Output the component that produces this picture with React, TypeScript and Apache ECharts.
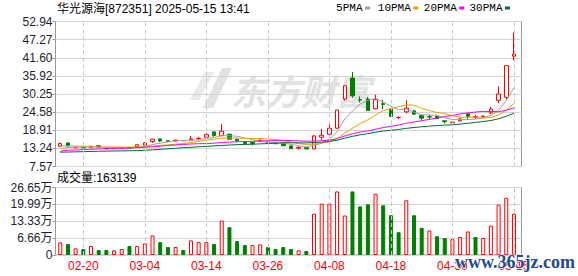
import React, { useEffect, useRef } from 'react';
import * as echarts from 'echarts';

const title = '华光源海[872351] 2025-05-15 13:41';
const volumeTitle = '成交量:163139';

const dates = [
  '02-17','02-18','02-19','02-20','02-21','02-24','02-25','02-26','02-27','02-28',
  '03-03','03-04','03-05','03-06','03-07','03-10','03-11','03-12','03-13','03-14',
  '03-17','03-18','03-19','03-20','03-21','03-24','03-25','03-26','03-27','03-28',
  '03-31','04-01','04-02','04-03','04-07','04-08','04-09','04-10','04-11','04-14',
  '04-15','04-16','04-17','04-18','04-21','04-22','04-23','04-24','04-25','04-28',
  '04-29','04-30','05-06','05-07','05-08','05-09','05-12','05-13','05-14','05-15'
];

const opens = [
  13.91,14.95,13.47,13.69,13.54,14.07,13.32,13.16,13.25,13.54,
  13.76,14.26,15.36,16.20,15.64,15.58,15.64,15.89,16.27,16.74,
  18.40,17.24,17.68,16.11,15.26,15.17,15.42,15.26,14.95,14.79,
  14.01,13.28,13.47,13.06,16.74,17.68,19.56,28.67,35.26,28.51,
  28.67,25.62,27.19,25.53,22.86,24.68,25.00,23.52,23.17,23.27,
  21.86,21.23,21.86,24.05,22.96,23.17,24.37,28.29,29.23,42.11
];
const closes = [
  14.73,14.10,13.63,13.38,13.85,13.63,13.13,13.38,13.44,13.28,
  14.38,14.95,16.14,15.58,15.39,15.83,15.70,16.20,16.42,17.55,
  17.24,18.62,16.11,15.67,14.79,14.79,15.80,14.85,14.70,14.07,
  13.13,13.54,13.06,17.15,17.37,19.56,25.22,32.84,29.70,28.39,
  25.09,28.45,27.00,23.21,22.93,25.84,23.96,22.70,23.05,22.55,
  21.60,21.45,22.48,23.27,23.17,23.33,25.53,30.27,39.12,42.73
];
const lows = [
  13.76,13.69,13.22,13.22,13.44,13.54,12.91,13.13,13.13,13.20,
  13.69,14.16,14.95,15.17,15.17,15.48,15.55,15.80,15.80,16.68,
  16.93,17.15,16.05,15.04,14.63,14.16,15.36,14.73,14.57,14.01,
  13.06,12.91,12.97,12.97,15.89,16.42,19.34,28.23,29.08,27.60,
  25.00,25.47,25.53,23.11,22.48,24.21,23.74,21.86,22.26,22.39,
  21.07,20.91,21.64,22.39,22.48,22.96,23.90,27.35,28.45,40.79
];
const highs = [
  15.11,15.04,13.69,13.79,14.00,14.16,13.38,13.54,13.60,13.60,
  14.48,15.11,16.20,16.30,15.80,15.89,15.80,17.15,16.74,18.00,
  18.46,20.91,17.77,16.20,15.36,15.26,16.11,15.36,15.04,14.85,
  14.07,13.85,13.54,17.30,19.34,21.13,25.31,32.94,37.15,29.49,
  29.30,30.02,28.45,25.62,23.21,28.29,25.15,23.65,23.74,23.43,
  21.92,21.60,22.80,24.15,23.65,23.49,26.25,32.59,39.12,49.49
];

const volumes = [
  49800,43100,26100,23500,35300,19600,19600,18300,23500,35300,
  35300,45700,77200,50900,31300,31300,19600,57500,50900,50900,
  43100,136000,109700,54900,39200,39200,41800,31300,23500,31300,
  23500,18300,16000,163000,203000,203000,251000,156000,251000,192000,
  200000,242000,196000,157000,90000,216000,157000,107000,97000,74000,
  67000,63000,71000,93000,71000,67000,116000,199000,226000,163139
];
// 1 = red (hollow) volume bar, 0 = green (filled) volume bar
const volumeUp = [
  1,0,1,0,1,0,0,1,1,0,
  1,1,1,0,0,1,0,1,1,1,
  0,1,0,0,0,1,1,0,0,0,
  0,1,0,1,1,1,1,1,0,0,
  0,1,0,0,0,1,0,0,1,0,
  0,1,1,1,0,1,1,1,1,1
];

// moving-average values before a full window is visible
const ma5Head = [14.0, 14.0, 13.95, 13.9];
const ma10Head = [13.2, 13.5, 13.6, 13.65, 13.68, 13.7, 13.68, 13.7, 13.67];
const ma20Head = [12.35, 12.66, 12.75, 12.84, 12.97, 13.06, 13.13, 13.19, 13.25, 13.35,
  13.44, 13.60, 13.76, 13.95, 14.13, 14.32, 14.48, 14.60, 14.70];
const ma30Head = [12.05, 12.1, 12.16, 12.22, 12.28, 12.34, 12.38, 12.42, 12.46, 12.5,
  12.53, 12.65, 12.78, 12.91, 13.1, 13.28, 13.45, 13.6, 13.75, 13.88,
  14.01, 14.15, 14.28, 14.41, 14.48, 14.54, 14.65, 14.75, 14.85];

const priceTicks = ['7.57','13.24','18.91','24.58','30.25','35.92','41.60','47.27','52.94'];
const volTicks = ['0','6.66万','13.33万','19.99万','26.65万'];
const labelDates = ['02-20','03-04','03-14','03-26','04-08','04-18','04-30','05-15'];

const maNames = ['5PMA','10PMA','20PMA','30PMA'];
const maPeriods = [5, 10, 20, 30];
const maHeads = [ma5Head, ma10Head, ma20Head, ma30Head];
const maColors = ['#a0a0a0','#f0a000','#ff00ff','#006e30'];

const PRICE_MIN = 7.57, PRICE_MAX = 52.94;
const VOL_MAX = 266500;

const UP = '#ff0000';
const DOWN = '#008000';

function movingAverage(n: number, head: number[]) {
  return closes.map((_, i) => {
    if (i < n - 1) return head[i];
    let s = 0;
    for (let k = i - n + 1; k <= i; k++) s += closes[k];
    return +(s / n).toFixed(3);
  });
}

function buildOption() {
  const candleData = dates.map((_, i) => [opens[i], closes[i], lows[i], highs[i]]);
  const volData = volumes.map((v, i) => ({
    value: v,
    itemStyle: volumeUp[i]
      ? { color: '#ffffff', borderColor: UP, borderWidth: 1 }
      : { color: DOWN, borderColor: DOWN, borderWidth: 1 },
  }));
  const vLines = {
    silent: true,
    symbol: ['none', 'none'],
    label: { show: false },
    lineStyle: { color: '#c8c8c8', type: [4, 3], width: 1 },
    data: labelDates.map((d) => ({ xAxis: d })),
  };
  const labelFont = 'Liberation Sans';
  const legendSquareX = [365, 413.3, 459.3, 505];

  const graphic: any[] = [
    {
      type: 'text', z: 10,
      style: { text: title, x: 57, y: 8.5, textVerticalAlign: 'middle', verticalAlign: 'middle',
        font: '12px "Liberation Sans", "Noto Sans CJK SC"', fill: '#000' },
    },
    {
      type: 'text', z: 10,
      style: { text: volumeTitle, x: 57, y: 177.5, textVerticalAlign: 'middle', verticalAlign: 'middle',
        font: '12px "Liberation Sans", "Noto Sans CJK SC"', fill: '#000' },
    },
    {
      type: 'text', z: 0, silent: true,
      style: { text: '东方财富', x: 231, y: 89, textVerticalAlign: 'middle', verticalAlign: 'middle',
        font: 'italic bold 35px "Noto Sans CJK SC"', fill: '#e2e2e2' },
    },
    {
      type: 'polygon', z: 0, silent: true,
      shape: { points: [[203, 108], [213, 108], [232, 68], [222, 68]] },
      style: { fill: '#e2e2e2' },
    },
    {
      type: 'polygon', z: 0, silent: true,
      shape: { points: [[190, 100], [199, 100], [214, 72], [205, 72]] },
      style: { fill: '#eaeaea' },
    },
    {
      type: 'text', z: 100, silent: true,
      style: { text: 'www.365jz.com', x: 455, y: 262, textVerticalAlign: 'middle', verticalAlign: 'middle',
        font: 'bold 18px "Liberation Serif"', fill: '#234a8f', stroke: '#ffffff', lineWidth: 1 },
    },
  ];
  maNames.forEach((name, k) => {
    graphic.push({
      type: 'text', z: 10,
      style: { text: name, x: legendSquareX[k] - 2.5, y: 8, textAlign: 'right', align: 'right',
        textVerticalAlign: 'middle', verticalAlign: 'middle',
        font: '11px "Liberation Mono"', fill: '#000' },
    });
    graphic.push({
      type: 'rect', z: 10,
      shape: { x: legendSquareX[k], y: 6.5, width: 5, height: 3 },
      style: { fill: maColors[k] },
    });
  });

  const hiddenCat = (gridIndex: number, showLabels: boolean) => ({
    type: 'category', gridIndex, data: dates, boundaryGap: true,
    axisLine: { show: false }, axisTick: { show: false }, splitLine: { show: false },
    axisLabel: showLabels
      ? { show: true, color: '#ff0000', fontSize: 12, fontFamily: labelFont, margin: 5,
          interval: (_: number, v: string) => labelDates.indexOf(v) >= 0 }
      : { show: false },
  });

  return {
    animation: false,
    backgroundColor: '#ffffff',
    graphic,
    grid: [
      { left: 56.4, top: 21.5, width: 461.4, height: 145, outerBoundsMode: 'none' },
      { left: 56.4, top: 187.5, width: 461.4, height: 67.5, outerBoundsMode: 'none' },
      { left: 55.5, top: 21.5, width: 466, height: 145, show: true, borderColor: '#999999', borderWidth: 1,
        backgroundColor: 'transparent', outerBoundsMode: 'none' },
      { left: 55.5, top: 187.5, width: 466, height: 67.5, show: true, borderColor: '#999999', borderWidth: 1,
        backgroundColor: 'transparent', outerBoundsMode: 'none' },
    ],
    xAxis: [
      hiddenCat(0, false),
      hiddenCat(1, true),
      { type: 'value', gridIndex: 2, min: 0, max: 1, show: false },
      { type: 'value', gridIndex: 3, min: 0, max: 1, show: false },
    ],
    yAxis: [
      { type: 'value', gridIndex: 0, min: PRICE_MIN, max: PRICE_MAX, show: false, splitLine: { show: false } },
      { type: 'value', gridIndex: 1, min: 0, max: VOL_MAX, show: false, splitLine: { show: false } },
      {
        type: 'value', gridIndex: 2, min: PRICE_MIN, max: PRICE_MAX, interval: (PRICE_MAX - PRICE_MIN) / 8,
        axisLine: { show: false },
        axisTick: { show: true, length: 3, lineStyle: { color: '#999999' } },
        axisLabel: { color: '#1e1e2e', fontSize: 12, fontFamily: labelFont, margin: 3,
          formatter: (_: number, i: number) => priceTicks[i] ?? '' },
        splitLine: { show: true, lineStyle: { color: '#d4d4d4', width: 1 } },
      },
      {
        type: 'value', gridIndex: 3, min: 0, max: VOL_MAX, interval: VOL_MAX / 4,
        axisLine: { show: false },
        axisTick: { show: true, length: 3, lineStyle: { color: '#999999' } },
        axisLabel: { color: '#1e1e2e', fontSize: 12, fontFamily: `${labelFont}, "Noto Sans CJK SC"`, margin: 3,
          formatter: (_: number, i: number) => volTicks[i] ?? '' },
        splitLine: { show: true, lineStyle: { color: '#d4d4d4', width: 1 } },
      },
    ],
    series: [
      {
        type: 'candlestick', xAxisIndex: 0, yAxisIndex: 0, barWidth: 4,
        data: candleData,
        itemStyle: { color: '#ffffff', color0: DOWN, borderColor: UP, borderColor0: DOWN, borderWidth: 1 },
        markLine: vLines,
        z: 3,
      },
      ...maPeriods.map((n, k) => ({
        type: 'line', name: maNames[k], xAxisIndex: 0, yAxisIndex: 0,
        data: movingAverage(n, maHeads[k]),
        symbol: 'none', showSymbol: false, smooth: false,
        lineStyle: { color: maColors[k], width: 1 },
        z: 4,
      })),
      {
        type: 'bar', xAxisIndex: 1, yAxisIndex: 1, barWidth: 4,
        data: volData,
        markLine: vLines,
        z: 3,
      },
    ],
  };
}

export default function App() {
  const ref = useRef<HTMLDivElement>(null);
  useEffect(() => {
    if (!ref.current) return;
    const chart = echarts.init(ref.current, null, { renderer: 'svg' });
    chart.setOption(buildOption() as any);
    return () => chart.dispose();
  }, []);
  return (
    <div
      ref={ref}
      style={{ position: 'fixed', left: 0, top: 0, width: 578, height: 276, background: '#ffffff' }}
    />
  );
}
